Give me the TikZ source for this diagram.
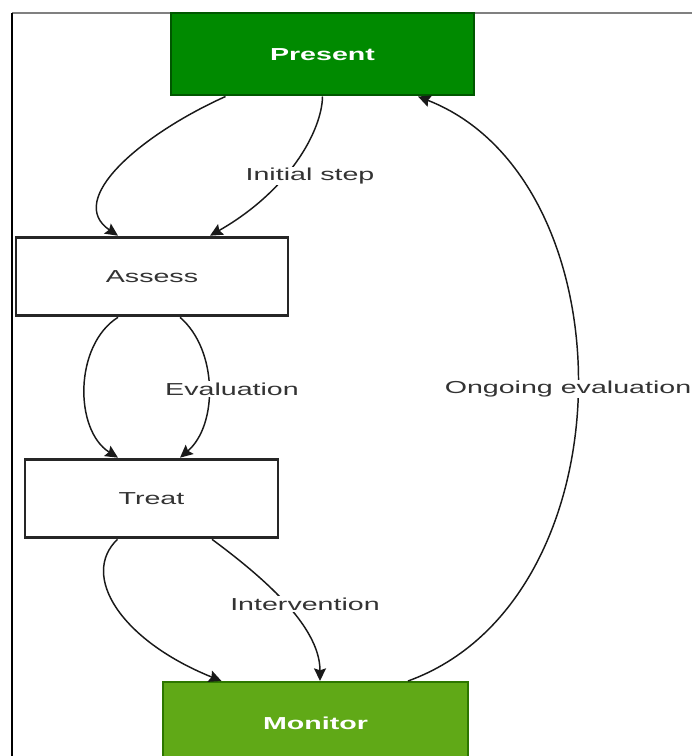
\documentclass[tikz,border=0pt]{standalone}
\usepackage{fontspec}
\setmainfont{Liberation Sans}
\usepackage{graphicx}
\usetikzlibrary{positioning}
\usetikzlibrary{calc}
\usetikzlibrary{arrows.meta}
\definecolor{presfill}{HTML}{008A00}
\definecolor{presline}{HTML}{005700}
\definecolor{monfill}{HTML}{60A917}
\definecolor{monline}{HTML}{2D7600}
\colorlet{txtcol}{black!80}
\newcommand{\wide}[1]{\scalebox{1.65}[1]{#1}}
\tikzset{>={Stealth[length=9.5pt,width=9pt,inset=1.5pt]}}

\begin{document}
\begin{tikzpicture}[x=0.75pt, y=-0.75pt,
    box/.style={rectangle, draw=black!85, line width=2.2pt, fill=white,
      minimum height=59pt, text=txtcol, font=\fontsize{13}{15}\selectfont},
    greenbox/.style={box, line width=1.5pt, minimum height=61.5pt, text=white,
      font=\fontsize{13}{15}\selectfont\bfseries},
    flow/.style={->, line width=1.1pt, black!90},
    tag/.style={fill=white, inner sep=1pt, text=txtcol, font=\fontsize{13}{15}\selectfont}]

% Page and frame
\useasboundingbox (0,0) rectangle (692,756);
\clip (0,0) rectangle (692,756);
\draw[gray, line width=1.5pt] (12,13) -- (692,13);
\draw[black, line width=1.1pt] (12,13) -- (12,756);

% Steps
\node[greenbox, fill=presfill, draw=presline, minimum width=227pt] (present) at (322.5,54.5) {\wide{Present}};
\node[box, minimum width=204pt] (assess) at (152,276.5) {\wide{Assess}};
\node[box, minimum width=189.75pt] (treat) at (151.5,498.5) {\wide{Treat}};
\node[greenbox, fill=monfill, draw=monline, minimum width=228.75pt] (monitor) at (315.5,723) {\wide{Monitor}};

% Present -> Assess
\draw[flow] ($(present.south)+(-97,0)$) .. controls (140,135) and (65,200) .. ($(assess.north)+(-34,0)$);
\draw[flow] ($(present.south)+(0,0)$) .. controls (322,130) and (290,190) .. ($(assess.north)+(58,0)$);

% Assess -> Treat
\draw[flow] ($(assess.south)+(-34,0)$) .. controls (74,345) and (74,430) .. ($(treat.north)+(-33.5,0)$);
\draw[flow] ($(assess.south)+(28,0)$) .. controls (218,350) and (218,425) .. ($(treat.north)+(28.5,0)$);

% Treat -> Monitor
\draw[flow] ($(treat.south)+(-34,0)$) .. controls (80,575) and (120,640) .. ($(monitor.north)+(-94,0)$);
\draw[flow] ($(treat.south)+(60.5,0)$) .. controls (260,575) and (320,625) .. ($(monitor.north)+(4.5,0)$);

% Monitor -> Present
\draw[flow] ($(monitor.north)+(92.5,0)$) .. controls (632,600) and (632,180) .. ($(present.south)+(95.5,0)$);

% Edge labels
\node[tag] (initLbl) at (310,176) {\wide{Initial step}};
\node[tag] (evalLbl) at (232,389) {\wide{Evaluation}};
\node[tag] (intLbl) at (305,604) {\wide{Intervention}};
\node[tag] (ongLbl) at (568,389) {\wide{Ongoing evaluation}};
\end{tikzpicture}
\end{document}
